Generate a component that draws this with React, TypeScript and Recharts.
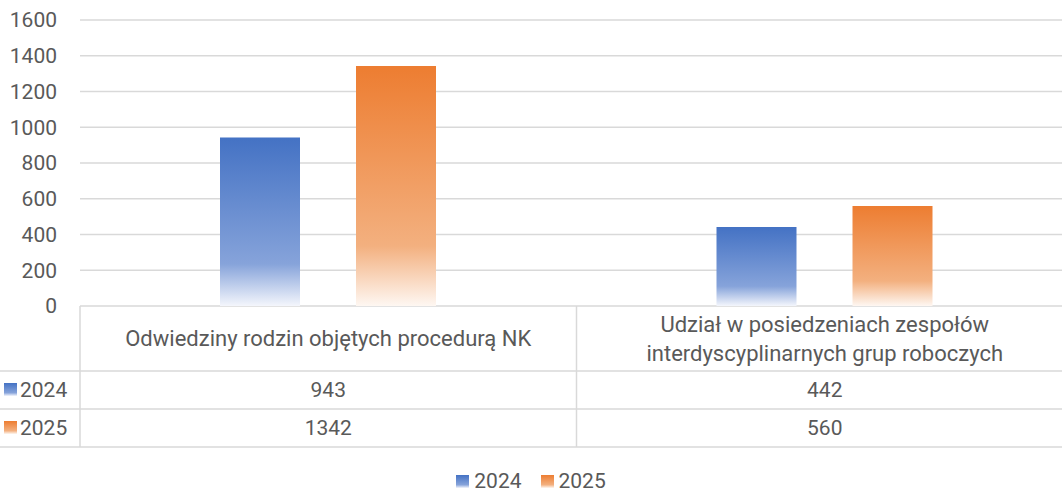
import { Bar, BarChart, CartesianGrid, Legend, XAxis, YAxis } from "recharts";

const categories = [
  "Odwiedziny rodzin objętych procedurą NK",
  "Udział w posiedzeniach zespołów interdyscyplinarnych grup roboczych",
];
const years = ["2024", "2025"];
const values2024 = [943, 442];
const values2025 = [1342, 560];
const yTicks = [0, 200, 400, 600, 800, 1000, 1200, 1400, 1600];

const seriesValues = [values2024, values2025];
const seriesStops = [
  ["#4472C4", "#86A3DA", "#F4F6FC"],
  ["#ED7D31", "#F3B07F", "#FEF7F2"],
];

const data = categories.map((name, i) => ({
  name,
  y2024: values2024[i],
  y2025: values2025[i],
}));

const CHART_W = 1073;
const CHART_H = 492;
const PLOT_LEFT = 80;
const BAND = (CHART_W - PLOT_LEFT) / categories.length;
const HEADER_H = 65;
const ROW_H = 38;
const FONT = "Roboto, 'Open Sans', sans-serif";
const FS = 21;
const TEXT = "#595959";
const LINE = "#D9D9D9";

const wrap = (text: string, max = 45) => {
  const lines: string[] = [];
  let cur = "";
  text.split(" ").forEach((w) => {
    if (cur && (cur + " " + w).length > max) {
      lines.push(cur);
      cur = w;
    } else {
      cur = cur ? cur + " " + w : w;
    }
  });
  if (cur) lines.push(cur);
  return lines;
};

const swatchBg = (i: number) =>
  `linear-gradient(${seriesStops[i][0]}, ${seriesStops[i][1]} 75%, ${seriesStops[i][2]})`;

// data table under the plot, drawn from the x axis ticks
const TableTick = (props: any) => {
  const { x, y, payload, index } = props;
  const lines = wrap(String(payload.value));
  const lineH = 29;
  const firstY = y + HEADER_H / 2 - ((lines.length - 1) * lineH) / 2;
  return (
    <g fontFamily={FONT} fontSize={FS} fill={TEXT}>
      <line x1={x - BAND / 2} x2={x - BAND / 2} y1={y} y2={y + HEADER_H + ROW_H * 2} stroke={LINE} strokeWidth={1.5} />
      {index === categories.length - 1 && (
        <line x1={x + BAND / 2} x2={x + BAND / 2} y1={y} y2={y + HEADER_H + ROW_H * 2} stroke={LINE} strokeWidth={1.5} />
      )}
      {index === 0 &&
        [HEADER_H, HEADER_H + ROW_H, HEADER_H + ROW_H * 2].map((dy) => (
          <line key={dy} x1={0} x2={CHART_W} y1={y + dy} y2={y + dy} stroke={LINE} strokeWidth={1.5} />
        ))}
      {index === 0 &&
        years.map((yr, s) => (
          <g key={yr}>
            <rect x={4} y={y + HEADER_H + ROW_H * s + ROW_H / 2 - 7} width={13} height={13} fill={`url(#grad${s})`} />
            <text x={20} y={y + HEADER_H + ROW_H * s + ROW_H / 2} dominantBaseline="central">
              {yr}
            </text>
          </g>
        ))}
      {lines.map((ln, k) => (
        <text
          key={k}
          x={x}
          y={firstY + k * lineH}
          fontSize={22}
          textAnchor="middle"
          dominantBaseline="central"
        >
          {ln}
        </text>
      ))}
      {seriesValues.map((vals, s) => (
        <text
          key={s}
          x={x}
          y={y + HEADER_H + ROW_H * s + ROW_H / 2}
          textAnchor="middle"
          dominantBaseline="central"
        >
          {vals[index]}
        </text>
      ))}
    </g>
  );
};

const LegendContent = () => (
  <div
    style={{
      height: 40,
      display: "flex",
      justifyContent: "center",
      alignItems: "flex-end",
      gap: 19,
      fontFamily: FONT,
      fontSize: FS,
      color: TEXT,
      lineHeight: "22px",
      boxSizing: "border-box",
    }}
  >
    {years.map((yr, s) => (
      <div key={yr} style={{ display: "flex", alignItems: "center", gap: 5 }}>
        <span style={{ width: 13, height: 13, background: swatchBg(s), display: "inline-block" }} />
        <span>{yr}</span>
      </div>
    ))}
  </div>
);

export default function App() {
  return (
    <div
      style={{
        position: "absolute",
        left: 0,
        top: 0,
        width: 1062,
        height: CHART_H,
        overflow: "hidden",
        background: "#fff",
      }}
    >
      <BarChart
        width={CHART_W}
        height={CHART_H}
        data={data}
        margin={{ top: 20, right: 0, left: 0, bottom: 0 }}
        barSize={80}
        barGap={56}
        accessibilityLayer={false}
      >
        <defs>
          {seriesStops.map((stops, s) => (
            <linearGradient key={s} id={`grad${s}`} x1="0" y1="0" x2="0" y2="1">
              <stop offset="0%" stopColor={stops[0]} />
              <stop offset="75%" stopColor={stops[1]} />
              <stop offset="100%" stopColor={stops[2]} />
            </linearGradient>
          ))}
        </defs>
        <CartesianGrid vertical={false} stroke={LINE} strokeWidth={1.5} />
        <YAxis
          width={PLOT_LEFT}
          domain={[0, 1600]}
          ticks={yTicks}
          axisLine={false}
          tickLine={false}
          tickSize={0}
          tickMargin={23}
          tick={{ fill: TEXT, fontSize: FS, fontFamily: FONT }}
        />
        <XAxis
          dataKey="name"
          height={146}
          axisLine={false}
          tickLine={false}
          tickSize={0}
          tickMargin={0}
          interval={0}
          tick={<TableTick />}
        />
        <Legend
          verticalAlign="bottom"
          content={<LegendContent />}
          wrapperStyle={{ left: 0, width: 1062, height: 40 }}
        />
        <Bar dataKey="y2024" name="2024" fill="url(#grad0)" isAnimationActive={false} />
        <Bar dataKey="y2025" name="2025" fill="url(#grad1)" isAnimationActive={false} />
      </BarChart>
    </div>
  );
}
